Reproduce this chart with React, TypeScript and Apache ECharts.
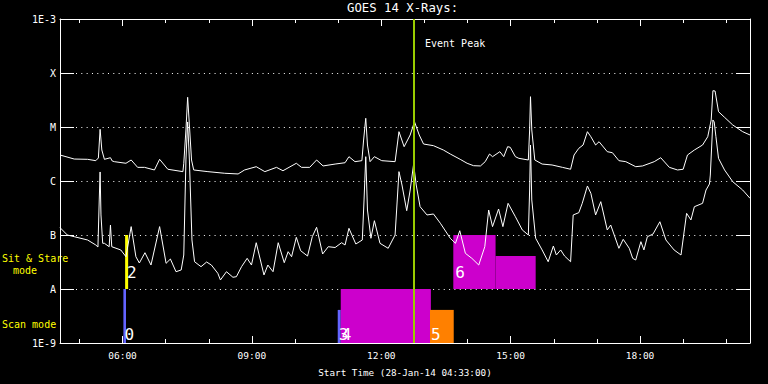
import React, { useEffect, useRef } from 'react';
import * as echarts from 'echarts';

// Time axis in decimal hours (UT) on 28-Jan-14; flux in W/m^2
const startHour = 4.55; // 04:33
const endHour = 20.55; // 20:33
const majorHours = [6, 9, 12, 15, 18];
const minorHours = [5, 7, 8, 10, 11, 13, 14, 16, 17, 19, 20];
const classExponents = [-9, -8, -7, -6, -5, -4, -3];
const classLabels = ['1E-9', 'A', 'B', 'C', 'M', 'X', '1E-3'];

// GOES 14 long channel (1-8 A)
const longChannel: [number, number][] = [
  [4.55, 3.03e-6], [4.88, 2.55e-6], [5.19, 2.52e-6], [5.38, 2.38e-6], [5.44, 2.67e-6],
  [5.48, 9.06e-6], [5.52, 3.75e-6], [5.58, 2.52e-6], [5.72, 2.70e-6], [5.76, 2.35e-6],
  [5.81, 2.28e-6], [6.08, 2.13e-6], [6.2, 2.45e-6], [6.35, 1.79e-6], [6.51, 1.79e-6],
  [6.74, 1.6e-6], [6.86, 2.52e-6], [7.05, 1.65e-6], [7.4, 1.49e-6], [7.42, 2.13e-6],
  [7.47, 8.8e-6], [7.51, 3.55e-5], [7.55, 1.09e-5], [7.6, 2.45e-6], [7.65, 1.6e-6],
  [7.98, 1.49e-6], [8.37, 1.39e-6], [8.68, 1.35e-6], [8.83, 1.6e-6], [9.1, 1.84e-6],
  [9.3, 1.49e-6], [9.57, 1.79e-6], [9.72, 1.55e-6], [10.03, 2.13e-6], [10.15, 1.79e-6],
  [10.34, 1.79e-6], [10.5, 2.45e-6], [10.65, 1.9e-6], [10.93, 2.06e-6], [11.16, 2.18e-6],
  [11.25, 2.82e-6], [11.39, 2.28e-6], [11.55, 2.38e-6], [11.59, 5.74e-6], [11.64, 1.45e-5],
  [11.68, 4.64e-6], [11.74, 2.28e-6], [11.84, 2.82e-6], [12.01, 2.38e-6], [12.32, 2.28e-6],
  [12.37, 4.64e-6], [12.41, 8.19e-6], [12.53, 4.32e-6], [12.67, 7.11e-6], [12.77, 1.25e-5],
  [12.88, 7.11e-6], [12.98, 4.84e-6], [13.21, 4.51e-6], [13.44, 3.75e-6], [13.6, 3.16e-6],
  [13.83, 2.52e-6], [13.99, 2.13e-6], [14.14, 1.92e-6], [14.3, 1.9e-6], [14.41, 2.28e-6],
  [14.51, 3.16e-6], [14.58, 2.82e-6], [14.75, 3.49e-6], [14.84, 2.82e-6], [14.93, 4.32e-6],
  [14.99, 4.21e-6], [15.11, 2.82e-6], [15.19, 2.63e-6], [15.41, 2.45e-6], [15.44, 8.8e-6],
  [15.46, 3.64e-5], [15.49, 8.8e-6], [15.56, 2.45e-6], [15.73, 2.06e-6], [15.96, 1.98e-6],
  [16.2, 1.79e-6], [16.39, 1.65e-6], [16.47, 3.03e-6], [16.58, 4.03e-6], [16.68, 4.64e-6],
  [16.78, 8.19e-6], [16.86, 6.61e-6], [16.97, 4.64e-6], [17.05, 5.34e-6], [17.24, 3.49e-6],
  [17.36, 3.34e-6], [17.51, 2.38e-6], [17.67, 2.28e-6], [17.9, 1.84e-6], [18.06, 1.9e-6],
  [18.33, 2.28e-6], [18.48, 2.7e-6], [18.68, 1.79e-6], [18.87, 1.6e-6], [19.0, 1.65e-6],
  [19.1, 3.03e-6], [19.26, 3.75e-6], [19.45, 4.64e-6], [19.57, 6.61e-6], [19.65, 1.35e-5],
  [19.69, 4.7e-5], [19.74, 4.64e-5], [19.82, 1.92e-5], [19.96, 1.51e-5], [20.15, 1.09e-5],
  [20.38, 8.19e-6], [20.55, 7.11e-6],
];

// GOES 14 short channel (0.5-4 A)
const shortChannel: [number, number][] = [
  [4.55, 1.37e-7], [4.72, 1.0e-7], [4.88, 9.3e-8], [5.19, 8.08e-8], [5.38, 6.53e-8],
  [5.43, 6.0e-8], [5.46, 4.45e-7], [5.48, 1.47e-6], [5.5, 2.35e-7], [5.54, 7.02e-8],
  [5.58, 7.02e-8], [5.69, 6.07e-8], [5.72, 1.53e-7], [5.75, 6.07e-8], [5.96, 5.28e-8],
  [6.08, 3.96e-8], [6.2, 1.43e-7], [6.31, 3.96e-8], [6.39, 3.03e-8], [6.52, 4.7e-8],
  [6.66, 2.78e-8], [6.86, 1.43e-7], [7.01, 2.99e-8], [7.11, 3.59e-8], [7.24, 2.09e-8],
  [7.36, 2.25e-8], [7.42, 4.26e-8], [7.47, 2.45e-6], [7.51, 1.24e-5], [7.55, 2.45e-6],
  [7.61, 8.08e-8], [7.67, 3.2e-8], [7.82, 2.59e-8], [7.95, 3.16e-8], [8.06, 2.78e-8],
  [8.21, 1.95e-8], [8.27, 1.47e-8], [8.41, 2.09e-8], [8.56, 1.65e-8], [8.64, 1.69e-8],
  [8.76, 2.59e-8], [8.89, 3.7e-8], [8.99, 2.78e-8], [9.1, 7.2e-8], [9.28, 1.82e-8],
  [9.37, 2.78e-8], [9.49, 2.09e-8], [9.61, 7.2e-8], [9.75, 3.07e-8], [9.84, 4.91e-8],
  [9.92, 3.96e-8], [10.03, 9.06e-8], [10.13, 5.12e-8], [10.29, 4.08e-8], [10.4, 9.3e-8],
  [10.5, 1.39e-7], [10.64, 4.45e-8], [10.77, 6.07e-8], [10.93, 5.87e-8], [11.08, 7.2e-8],
  [11.16, 6.53e-8], [11.25, 1.33e-7], [11.41, 6.81e-8], [11.56, 8.08e-8], [11.6, 4.45e-7],
  [11.64, 2.82e-6], [11.68, 2.9e-7], [11.76, 8.7e-8], [11.84, 1.84e-7], [11.97, 7.02e-8],
  [12.16, 5.67e-8], [12.32, 1.0e-7], [12.37, 4.45e-7], [12.41, 1.49e-6], [12.48, 8.43e-7],
  [12.59, 2.82e-7], [12.67, 6.81e-7], [12.75, 2.06e-6], [12.81, 8.43e-7], [12.9, 3.34e-7],
  [13.06, 2.35e-7], [13.21, 2.45e-7], [13.37, 1.65e-7], [13.6, 8.69e-8], [13.72, 7.02e-8],
  [13.82, 1.2e-7], [13.95, 4.58e-8], [14.1, 3.7e-8], [14.26, 2.78e-8], [14.4, 6.07e-8],
  [14.49, 2.9e-7], [14.58, 1.43e-7], [14.72, 3.03e-7], [14.82, 1.43e-7], [14.94, 3.86e-7],
  [15.11, 2.18e-7], [15.27, 1.24e-7], [15.41, 1.0e-7], [15.44, 6.81e-7], [15.46, 4.64e-6],
  [15.49, 4.45e-7], [15.58, 8.7e-8], [15.73, 5.28e-8], [15.87, 3.2e-8], [15.99, 6.25e-8],
  [16.06, 4.26e-8], [16.16, 5.28e-8], [16.25, 4.08e-8], [16.39, 3.2e-8], [16.45, 2.35e-7],
  [16.58, 2.59e-7], [16.66, 3.86e-7], [16.78, 8.08e-7], [16.86, 5.92e-7], [16.97, 2.35e-7],
  [17.09, 4.14e-7], [17.24, 1.24e-7], [17.32, 1.53e-7], [17.51, 5.67e-8], [17.61, 8.32e-8],
  [17.75, 5.67e-8], [17.83, 3.7e-8], [17.9, 3.44e-8], [18.02, 7.52e-8], [18.09, 5.28e-8],
  [18.17, 9.3e-8], [18.3, 1.04e-7], [18.46, 1.76e-7], [18.6, 8.08e-8], [18.79, 5.28e-8],
  [18.95, 4.26e-8], [19.08, 2.52e-7], [19.18, 1.9e-7], [19.26, 3.34e-7], [19.45, 3.86e-7],
  [19.53, 6.81e-7], [19.61, 8.8e-7], [19.63, 1.29e-6], [19.69, 1.35e-5], [19.72, 1.24e-5],
  [19.76, 6.61e-6], [19.82, 2.63e-6], [19.96, 1.6e-6], [20.15, 9.7e-7], [20.38, 6.81e-7],
  [20.55, 4.78e-7],
];

const eventPeakHour = 12.755;

// Observation mode boxes (scan / sit & stare)
const boxLabels = ['0', '2', '3', '4', '5', '6', ''];
const boxStart = [6.02, 6.06, 10.99, 11.06, 13.13, 13.67, 14.65];
const boxEnd = [6.08, 6.13, 11.06, 13.15, 13.68, 14.65, 15.58];
const boxLow = [1e-9, 1e-8, 1e-9, 1e-9, 1e-9, 1e-8, 1e-8];
const boxHigh = [1e-8, 1e-7, 4.1e-9, 1e-8, 4.1e-9, 1e-7, 4.1e-8];
const boxColors = ['#6464ff', '#ffff00', '#6464ff', '#cc00cc', '#ff8000', '#cc00cc', '#cc00cc'];

const FONT = '"DejaVu Sans Mono", monospace';

const hourLabel = (h: number) => `${String(Math.round(h)).padStart(2, '0')}:00`;
const classLabel = (v: number) => {
  const e = Math.round(Math.log10(v));
  const i = classExponents.indexOf(e);
  return i >= 0 ? classLabels[i] : '';
};

export default function App() {
  const ref = useRef<HTMLDivElement>(null);
  useEffect(() => {
    if (!ref.current) return;
    const chart = echarts.init(ref.current, null, { renderer: 'svg' });
    const white = '#ffffff';
    const baseX = { type: 'value', min: startHour, max: endHour, splitLine: { show: false } };
    const areaData = boxLabels.map((lab, i) => {
      const stare = boxLow[i] >= 1e-8;
      return [
        {
          name: lab,
          xAxis: boxStart[i],
          yAxis: boxHigh[i],
          itemStyle: { color: boxColors[i], opacity: 1 },
          label: {
            show: lab !== '',
            formatter: lab,
            position: 'insideBottomLeft',
            distance: 1,
            offset: stare ? [1, -8] : [0, 0],
            color: white,
            fontFamily: FONT,
            fontSize: 16,
          },
        },
        { xAxis: boxEnd[i], yAxis: boxLow[i] },
      ];
    });

    chart.setOption({
      animation: false,
      backgroundColor: '#000000',
      title: {
        text: 'GOES 14 X-Rays:',
        left: 347,
        top: 2,
        padding: 0,
        textStyle: { color: white, fontFamily: FONT, fontSize: 12.3, fontWeight: 'normal' },
      },
      grid: { left: 60, right: 18, top: 19, bottom: 41, containLabel: false },
      xAxis: [
        {
          ...baseX,
          position: 'bottom',
          axisLine: { show: true, lineStyle: { color: white, width: 1 } },
          axisTick: { show: true, inside: true, length: 7, customValues: majorHours, lineStyle: { color: white } },
          axisLabel: {
            show: true,
            customValues: majorHours,
            formatter: hourLabel,
            color: white,
            fontFamily: FONT,
            fontSize: 9.5,
            margin: 7,
          },
          name: 'Start Time (28-Jan-14 04:33:00)',
          nameLocation: 'middle',
          nameGap: 25,
          nameTextStyle: { color: white, fontFamily: FONT, fontSize: 9.3 },
        },
        {
          ...baseX,
          position: 'bottom',
          axisLine: { show: false },
          axisTick: { show: true, inside: true, length: 4, customValues: minorHours, lineStyle: { color: white } },
          axisLabel: { show: false },
        },
        {
          ...baseX,
          position: 'top',
          axisLine: { show: true, lineStyle: { color: white, width: 1 } },
          axisTick: { show: true, inside: true, length: 7, customValues: majorHours, lineStyle: { color: white } },
          axisLabel: { show: false },
        },
        {
          ...baseX,
          position: 'top',
          axisLine: { show: false },
          axisTick: { show: true, inside: true, length: 4, customValues: minorHours, lineStyle: { color: white } },
          axisLabel: { show: false },
        },
      ],
      yAxis: [
        {
          type: 'log',
          logBase: 10,
          min: 1e-9,
          max: 1e-3,
          interval: 1,
          splitNumber: 6,
          position: 'left',
          axisLine: { show: true, lineStyle: { color: white, width: 1 } },
          axisTick: { show: true, inside: true, length: 14, lineStyle: { color: white } },
          axisLabel: { color: white, fontFamily: FONT, fontSize: 10, margin: 4, formatter: classLabel },
          splitLine: { show: true, lineStyle: { color: white, width: 1, type: [1, 4.33] } },
        },
        {
          type: 'log',
          logBase: 10,
          min: 1e-9,
          max: 1e-3,
          interval: 1,
          splitNumber: 6,
          position: 'right',
          axisLine: { show: true, lineStyle: { color: white, width: 1 } },
          axisTick: { show: true, inside: true, length: 14, lineStyle: { color: white } },
          axisLabel: { show: false },
          splitLine: { show: false },
        },
      ],
      series: [
        {
          type: 'line',
          name: 'modes',
          data: [],
          z: 1,
          markArea: { silent: true, data: areaData },
        },
        {
          type: 'line',
          name: 'long',
          data: longChannel,
          showSymbol: false,
          z: 3,
          lineStyle: { color: white, width: 1 },
          itemStyle: { color: white },
        },
        {
          type: 'line',
          name: 'short',
          data: shortChannel,
          showSymbol: false,
          z: 3,
          lineStyle: { color: white, width: 1 },
          itemStyle: { color: white },
          markLine: {
            silent: true,
            symbol: ['none', 'none'],
            label: { show: false },
            lineStyle: { color: '#99cc00', width: 2, type: 'solid' },
            data: [{ xAxis: eventPeakHour }],
          },
        },
      ],
      graphic: [
        {
          type: 'text',
          x: 425,
          y: 38,
          style: { text: 'Event Peak', fill: white, font: `10px ${FONT}`, verticalAlign: 'top' },
        },
        {
          type: 'text',
          x: 2,
          y: 253,
          style: { text: 'Sit & Stare', fill: '#ffff00', font: `10px ${FONT}`, verticalAlign: 'top' },
        },
        {
          type: 'text',
          x: 13,
          y: 265.5,
          style: { text: 'mode', fill: '#ffff00', font: `10px ${FONT}`, verticalAlign: 'top' },
        },
        {
          type: 'text',
          x: 2,
          y: 319,
          style: { text: 'Scan mode', fill: '#ffff00', font: `10px ${FONT}`, verticalAlign: 'top' },
        },
      ],
    });
    return () => chart.dispose();
  }, []);
  return (
    <div
      ref={ref}
      style={{ position: 'fixed', left: 0, top: 0, width: 768, height: 384, background: '#000' }}
    />
  );
}
